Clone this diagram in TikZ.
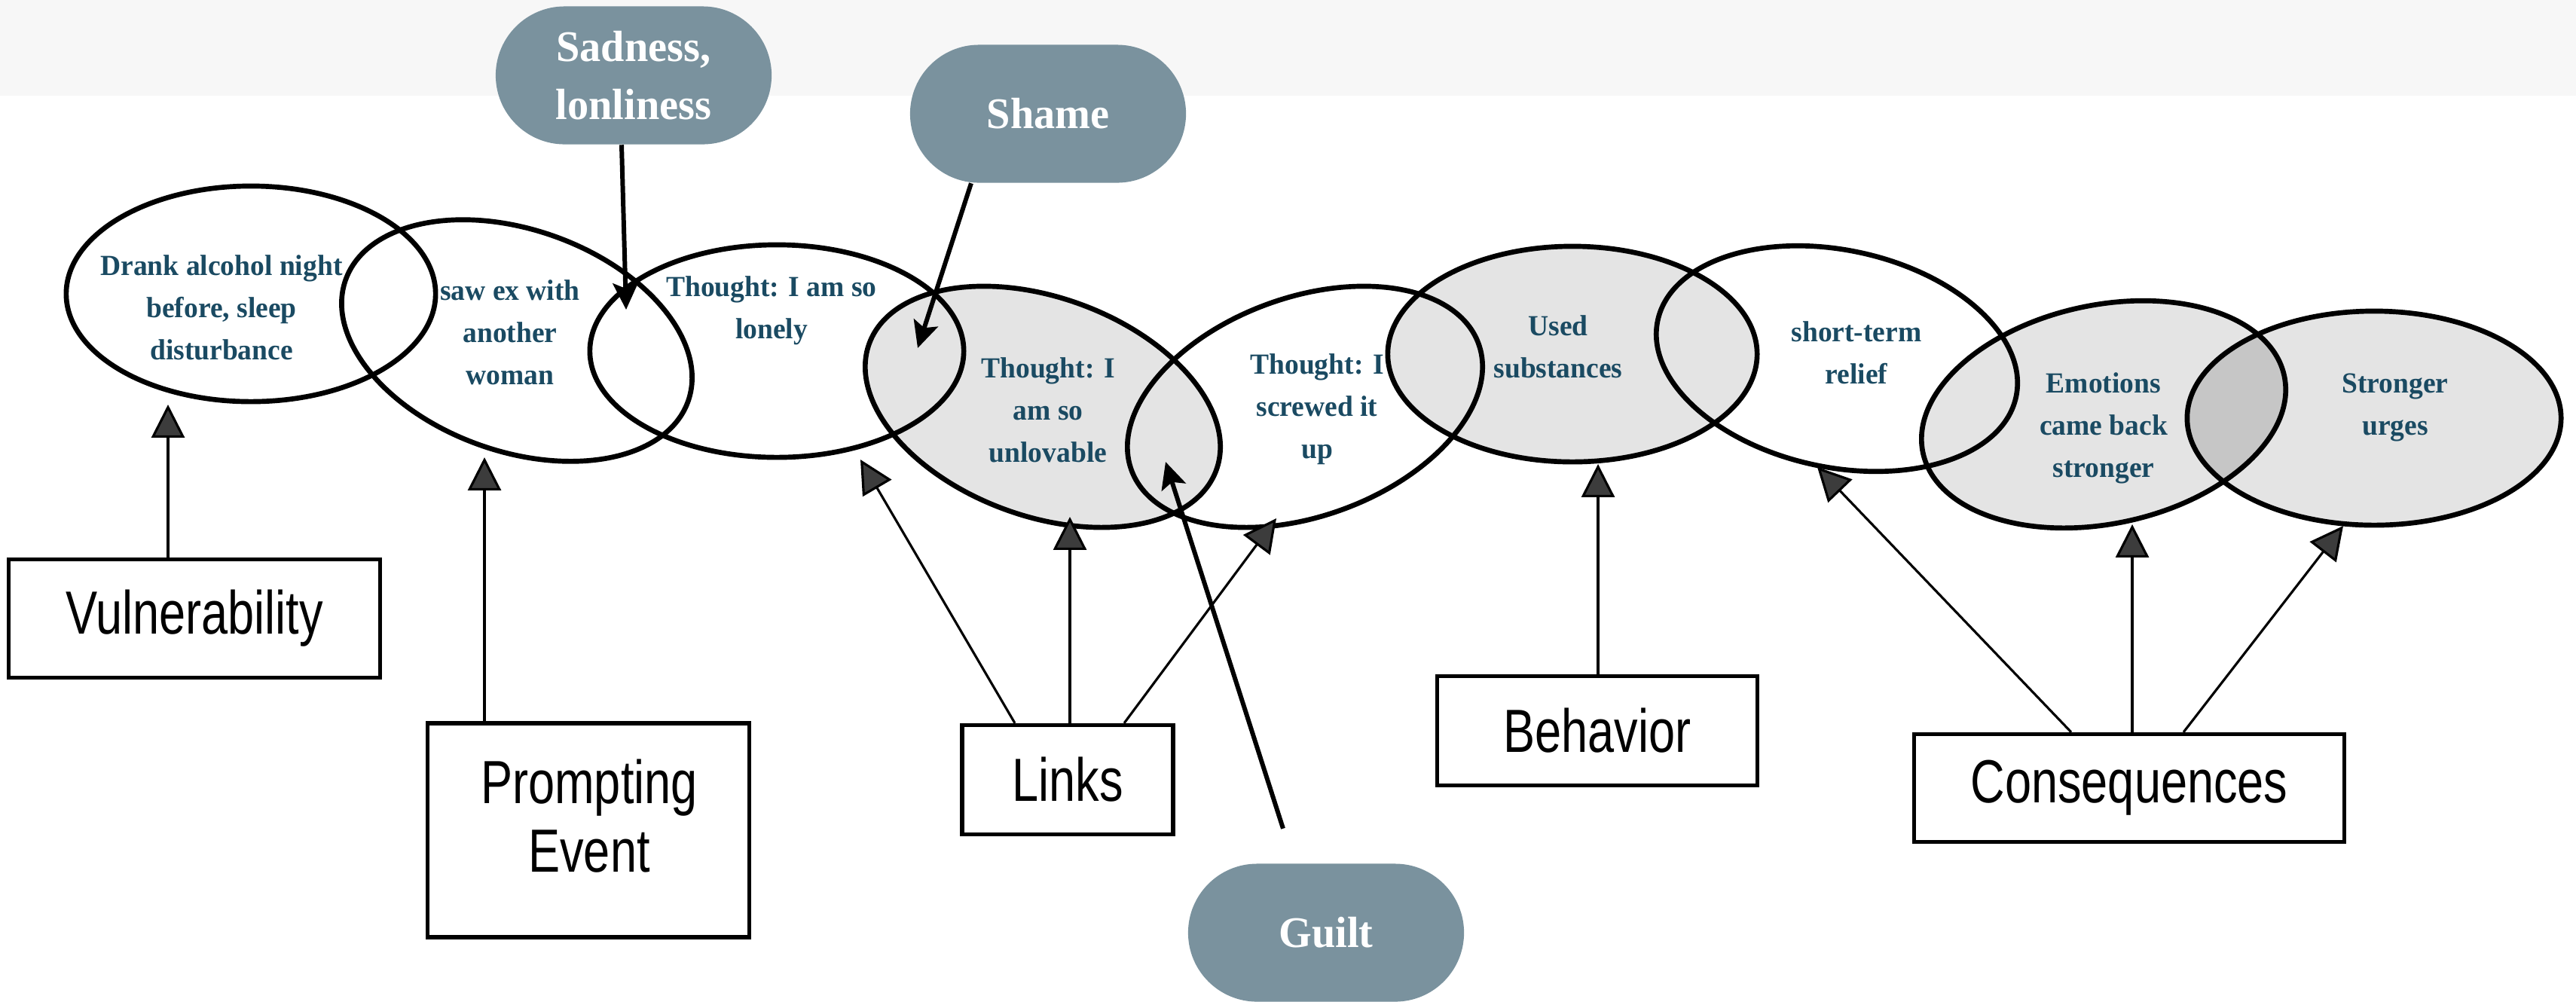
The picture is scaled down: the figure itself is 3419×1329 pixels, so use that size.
\documentclass[tikz,border=0pt]{standalone}
\usepackage{fontspec}
\setmainfont{Liberation Serif}
\newfontfamily\ovalfont[FakeStretch=0.97]{Liberation Serif}
\newfontfamily\boxfont[FakeStretch=0.78]{Liberation Sans}
\usetikzlibrary{shapes.geometric,shapes.misc,arrows.meta,calc}
\definecolor{ink}{HTML}{1A4A62}
\definecolor{callfill}{HTML}{7A929E}
\definecolor{band}{HTML}{F7F7F7}
\definecolor{chaingrey}{HTML}{E4E4E4}
\definecolor{overlapgrey}{HTML}{C6C6C6}
\definecolor{headgrey}{HTML}{3C3C3C}

\begin{document}
\begin{tikzpicture}[x=0.01cm,y=-0.01cm,
  oval/.style={ellipse, draw=black, line width=1.9pt, inner sep=0pt},
  ovaltext/.style={align=center, text=ink, inner sep=0pt,
    font=\ovalfont\bfseries\fontsize{11}{15.9}\selectfont},
  stagebox/.style={draw=black, line width=1.5pt, inner sep=0pt, align=center,
    font=\boxfont\fontsize{23}{26}\selectfont},
  feeling/.style={rounded rectangle, fill=callfill, minimum width=3.66cm,
    minimum height=1.83cm, text=white, align=center, inner sep=0pt,
    font=\ovalfont\bfseries\fontsize{16.5}{22}\selectfont},
  link/.style={line width=0.9pt, -{Triangle[width=12.5pt,length=12.5pt,fill=headgrey]}},
  cue/.style={line width=1.7pt, -{Stealth[length=10pt,width=9.5pt,inset=2pt]}},
]
% page and top band
\fill[white] (0,0) rectangle (3419,1329);
\fill[band] (0,0) rectangle (3419,127);
\useasboundingbox (0,0) rectangle (3419,1329);

% feelings
\node[feeling] (sad) at (841,100) {Sadness,\\lonliness};
\node[feeling] (shame) at (1391,151) {Shame};
\node[feeling] (guilt) at (1760,1238) {Guilt};

% shaded links of the chain
\fill[chaingrey, rotate around={-20:(1384,540)}] (1384,540) ellipse [x radius=2.45cm, y radius=1.45cm];
\fill[chaingrey] (2087,470) ellipse [x radius=2.45cm, y radius=1.43cm];
\fill[chaingrey, rotate around={12:(2792,550)}] (2792,550) ellipse [x radius=2.45cm, y radius=1.45cm];
\fill[chaingrey] (3151,555) ellipse [x radius=2.48cm, y radius=1.42cm];
\begin{scope}
  \clip[rotate around={12:(2792,550)}] (2792,550) ellipse [x radius=2.45cm, y radius=1.45cm];
  \fill[overlapgrey] (3151,555) ellipse [x radius=2.48cm, y radius=1.42cm];
\end{scope}

% chain outlines
\node[oval, minimum width=4.90cm, minimum height=2.86cm] (e1) at (333,390) {};
\node[oval, minimum width=4.82cm, minimum height=2.94cm, rotate=-19.5] (e2) at (686,452) {};
\node[oval, minimum width=4.96cm, minimum height=2.82cm] (e3) at (1031,466) {};
\node[oval, minimum width=4.90cm, minimum height=2.90cm, rotate=-20] (e4) at (1384,540) {};
\node[oval, minimum width=4.90cm, minimum height=2.90cm, rotate=20] (e5) at (1732,540) {};
\node[oval, minimum width=4.90cm, minimum height=2.86cm] (e6) at (2087,470) {};
\node[oval, minimum width=4.86cm, minimum height=2.88cm, rotate=-12] (e7) at (2438,476) {};
\node[oval, minimum width=4.90cm, minimum height=2.90cm, rotate=12] (e8) at (2792,550) {};
\node[oval, minimum width=4.96cm, minimum height=2.84cm] (e9) at (3151,555) {};

% chain texts
\node[ovaltext] (t1) at (294,408) {Drank alcohol night\\before, sleep\\disturbance};
\node[ovaltext] (t2) at (677,441) {saw ex with\\another\\woman};
\node[ovaltext] (t3) at (1024,412) {Thought: I am so\\lonely};
\node[ovaltext] (t4) at (1391,544) {Thought: I\\am so\\unlovable};
\node[ovaltext] (t5) at (1748,543) {Thought: I\\screwed it\\up};
\node[ovaltext] (t6) at (2068,460) {Used\\substances};
\node[ovaltext] (t7) at (2464,468) {short-term\\relief};
\node[ovaltext] (t8) at (2792,568) {Emotions\\came back\\stronger};
\node[ovaltext] (t9) at (3179,541) {Stronger\\urges};

% stage boxes
\node[stagebox, minimum width=4.93cm, minimum height=1.57cm] (vul) at (258,821) {Vulnerability};
\node[stagebox, minimum width=4.27cm, minimum height=2.84cm] (pe) at (781,1102) {};
\node[align=center, inner sep=0pt, font=\boxfont\fontsize{23}{26}\selectfont] (petext) at (782,1083) {Prompting\\Event};
\node[stagebox, minimum width=2.80cm, minimum height=1.45cm] (links) at (1417,1035) {Links};
\node[stagebox, minimum width=4.25cm, minimum height=1.45cm] (beh) at (2120,970) {Behavior};
\node[stagebox, minimum width=5.71cm, minimum height=1.43cm] (cons) at (2826,1046) {Consequences};

% arrow tips on the chain
\coordinate (vtip) at (223,537);
\coordinate (ptip) at (643,607);
\coordinate (l1tip) at (1142,610);
\coordinate (l2tip) at (1420,686);
\coordinate (l3tip) at (1694,688);
\coordinate (btip) at (2121,616);
\coordinate (c1tip) at (2412,620);
\coordinate (c2tip) at (2830,696);
\coordinate (c3tip) at (3110,698);
\coordinate (sadtip) at (831,411);
\coordinate (shametip) at (1218,462);
\coordinate (guilttip) at (1547,613);

% stage arrows
\draw[link] (vul.north -| vtip) -- (vtip);
\draw[link] (pe.north -| ptip) -- (ptip);
\draw[link] ([xshift=-0.70cm]links.north) -- (l1tip);
\draw[link] (links.north -| l2tip) -- (l2tip);
\draw[link] ([xshift=0.75cm]links.north) -- (l3tip);
\draw[link] (beh.north -| btip) -- (btip);
\draw[link] ([xshift=-0.77cm]cons.north) -- (c1tip);
\draw[link] (cons.north -| c2tip) -- (c2tip);
\draw[link] ([xshift=0.72cm]cons.north) -- (c3tip);

% feeling arrows
\draw[cue] ([xshift=-0.16cm]sad.south) -- (sadtip);
\draw[cue] ([xshift=-1.02cm]shame.south) -- (shametip);
\draw[cue] ([xshift=-0.57cm,yshift=0.46cm]guilt.north) -- (guilttip);
\end{tikzpicture}
\end{document}
